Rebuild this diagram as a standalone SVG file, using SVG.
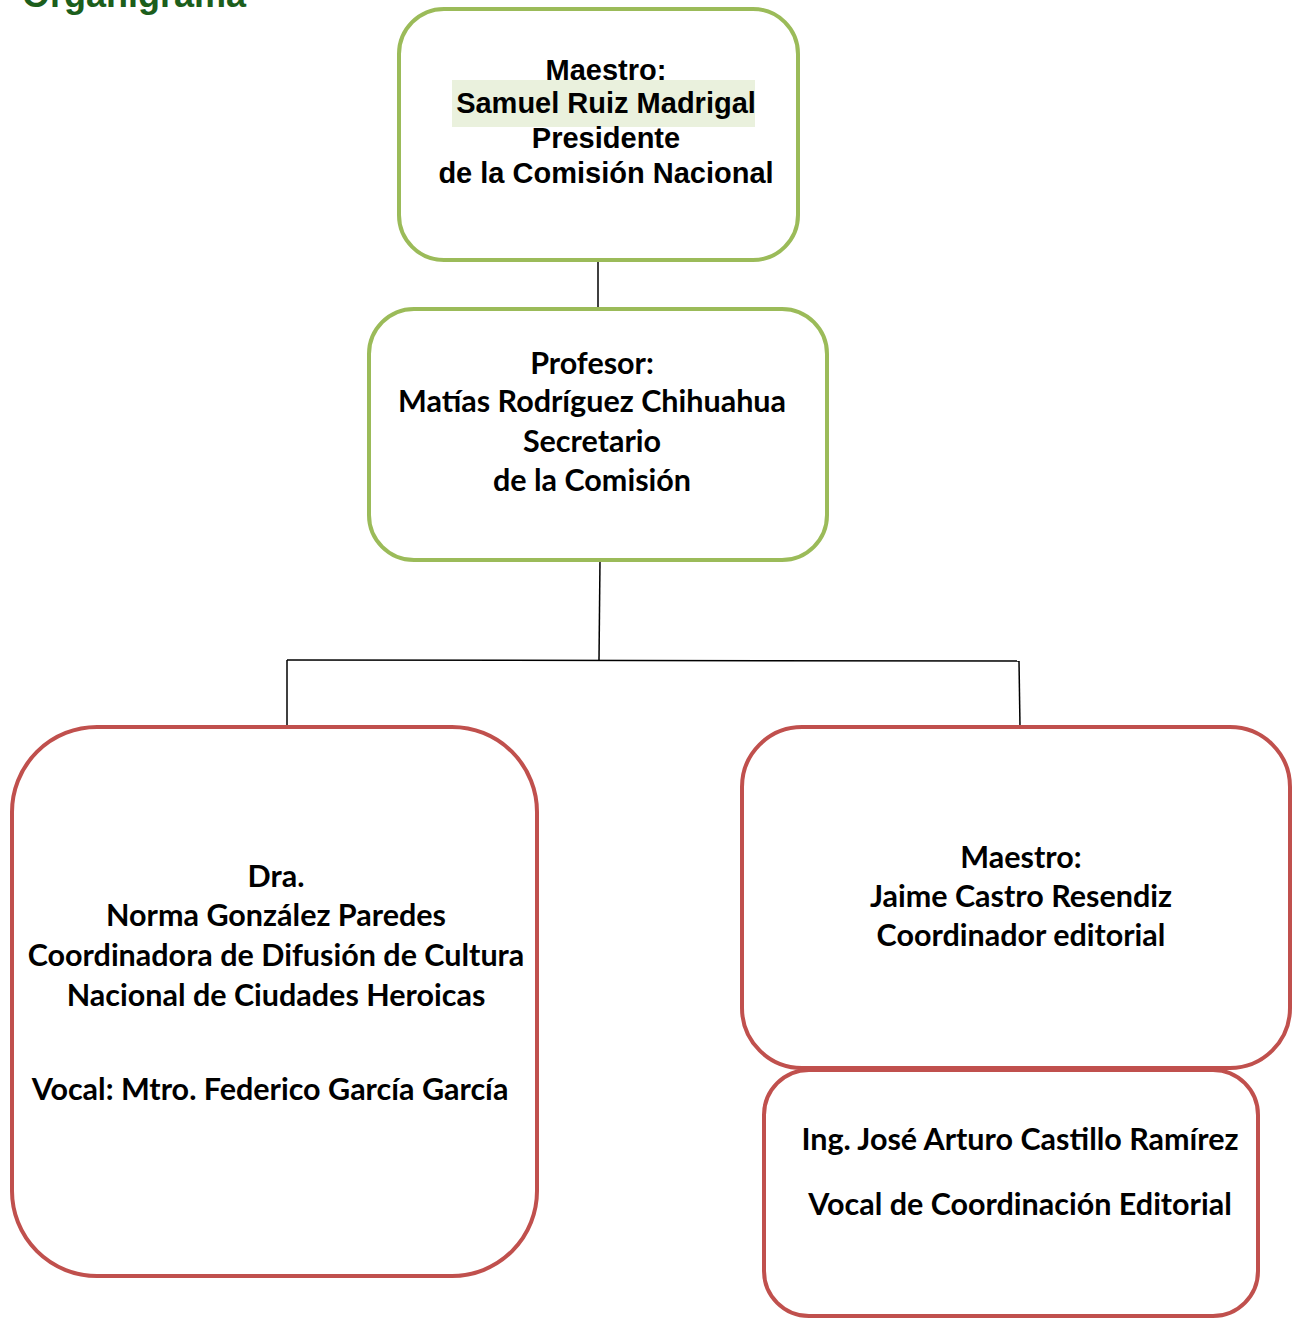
<svg xmlns="http://www.w3.org/2000/svg" width="1292" height="1319" viewBox="0 0 1292 1319">
<style>
.bg{fill:#ffffff}
.g{fill:#ffffff;stroke:#9BBB59;stroke-width:4}
.r{fill:#ffffff;stroke:#C0504D;stroke-width:4}
.c{fill:none;stroke:#000000;stroke-width:1.5}
.a{font-family:"Liberation Sans",Arial,sans-serif;font-weight:bold;font-size:29px;fill:#000;text-anchor:middle}
.t{font-family:Lato,"Open Sans",sans-serif;font-weight:bold;font-size:30.5px;fill:#000;text-anchor:middle}
.title{font-family:"Liberation Sans",Arial,sans-serif;font-weight:bold;font-size:36px;fill:#1C5E1C}
</style>
<rect class="bg" x="0" y="0" width="1292" height="1319"/>
<text class="title" x="22" y="7">Organigrama</text>
<g id="connectors">
<line class="c" x1="598" y1="260" x2="598" y2="309"/>
<line class="c" x1="600" y1="560" x2="599" y2="660"/>
<line class="c" x1="287" y1="660" x2="1019" y2="661"/>
<line class="c" x1="287" y1="660" x2="287" y2="727"/>
<line class="c" x1="1019" y1="661" x2="1020" y2="727"/>
</g>
<g id="presidente">
<rect class="g" x="399" y="9" width="399" height="251" rx="45"/>
<rect x="452" y="80" width="303" height="47" fill="#EAF1DD"/>
<text class="a" x="606" y="80">Maestro:</text>
<text class="a" x="606" y="113">Samuel Ruiz Madrigal</text>
<text class="a" x="606" y="148">Presidente</text>
<text class="a" x="606" y="183">de la Comisión Nacional</text>
</g>
<g id="secretario">
<rect class="g" x="369" y="309" width="458" height="251" rx="45"/>
<text class="t" x="592" y="374">Profesor:</text>
<text class="t" x="592" y="412">Matías Rodríguez Chihuahua</text>
<text class="t" x="592" y="452">Secretario</text>
<text class="t" x="592" y="491">de la Comisión</text>
</g>
<g id="coordinadora">
<rect class="r" x="12" y="727" width="525" height="549" rx="85"/>
<text class="t" x="276" y="887">Dra.</text>
<text class="t" x="276" y="926">Norma González Paredes</text>
<text class="t" x="276" y="966">Coordinadora de Difusión de Cultura</text>
<text class="t" x="276" y="1006">Nacional de Ciudades Heroicas</text>
<text class="t" x="270" y="1100">Vocal: Mtro. Federico García García</text>
</g>
<g id="coordinador">
<rect class="r" x="742" y="727" width="548" height="341" rx="60"/>
<text class="t" x="1021" y="868">Maestro:</text>
<text class="t" x="1021" y="907">Jaime Castro Resendiz</text>
<text class="t" x="1021" y="946">Coordinador editorial</text>
</g>
<g id="vocal">
<rect class="r" x="764" y="1070" width="494" height="246" rx="45"/>
<text class="t" x="1020" y="1150">Ing. José Arturo Castillo Ramírez</text>
<text class="t" x="1020" y="1215">Vocal de Coordinación Editorial</text>
</g>
</svg>
